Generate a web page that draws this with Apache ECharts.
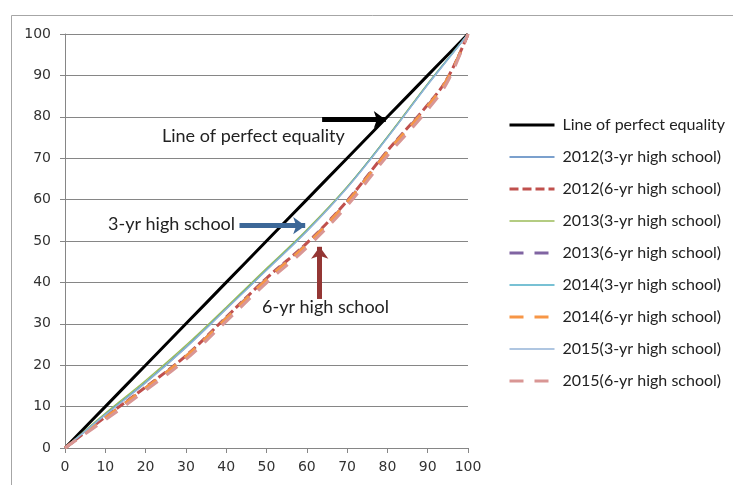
<!DOCTYPE html>
<html>
<head>
<meta charset="utf-8">
<script src="https://cdn.jsdelivr.net/npm/echarts@6/dist/echarts.min.js"></script>
<style>html,body{margin:0;padding:0;background:#fff}#c{width:733px;height:485px}</style>
</head>
<body>
<div id="c"></div>
<script>
// cumulative share of students (x) vs cumulative share (y)
var xs = [0, 10, 20, 30, 40, 50, 60, 70, 80, 90, 95, 100];
var equality = [0, 10, 20, 30, 40, 50, 60, 70, 80, 90, 95, 100];
var y2012_3 = [0, 8.1, 15.9, 24.4, 33.7, 43.1, 52.5, 63.0, 75.1, 87.9, 94.0, 100];
var y2012_6 = [0, 7.5, 14.7, 22.3, 31.6, 41.0, 49.5, 59.7, 71.8, 82.9, 89.5, 100];
var y2013_3 = [0, 8.4, 16.3, 24.8, 34.0, 43.4, 52.7, 63.1, 75.2, 88.0, 94.0, 100];
var y2013_6 = [0, 7.35, 14.5, 22.1, 31.4, 40.8, 49.3, 59.5, 71.6, 82.7, 89.3, 100];
var y2014_3 = [0, 8.1, 15.8, 24.3, 33.6, 43.0, 52.4, 62.9, 75.0, 87.8, 93.9, 100];
var y2014_6 = [0, 7.3, 14.5, 22.1, 31.3, 40.7, 49.2, 59.4, 71.5, 82.6, 89.3, 100];
var y2015_3 = [0, 8.0, 15.7, 24.2, 33.5, 42.9, 52.3, 62.8, 74.9, 87.7, 93.8, 100];
var y2015_6 = [0, 6.8, 13.9, 21.4, 30.6, 39.9, 48.4, 58.5, 70.6, 81.7, 88.6, 100];
var names = ['Line of perfect equality', '2012(3-yr high school)', '2012(6-yr high school)',
  '2013(3-yr high school)', '2013(6-yr high school)', '2014(3-yr high school)',
  '2014(6-yr high school)', '2015(3-yr high school)', '2015(6-yr high school)'];

function pairs(ys) { return xs.map(function (x, i) { return [x, ys[i]]; }); }

var chart = echarts.init(document.getElementById('c'));
var font = 'Lato';
var widths = [3, 1.3, 3, 1.3, 3, 1.3, 3, 1.3, 3];
function ser(name, ys, color, width, dash) {
  return {
    name: name, type: 'line', data: pairs(ys), smooth: 0.4, symbol: 'none',
    lineStyle: { color: color, width: width, type: dash || 'solid', cap: 'butt' },
    itemStyle: { color: color }, animation: false
  };
}
var series = [
  ser(names[0], equality, '#000000', widths[0]),
  ser(names[1], y2012_3, '#4F81BD', widths[1]),
  ser(names[2], y2012_6, '#C0504D', widths[2], [9, 4]),
  ser(names[3], y2013_3, '#9BBB59', widths[3]),
  ser(names[4], y2013_6, '#8064A2', widths[4], [14, 11]),
  ser(names[5], y2014_3, '#4BACC6', widths[5]),
  ser(names[6], y2014_6, '#F79646', widths[6], [14, 11]),
  ser(names[7], y2015_3, '#95B3D7', widths[7]),
  ser(names[8], y2015_6, '#D99694', widths[8], [14, 11])
];
series[0].markLine = {
  silent: true, animation: false, symbol: ['none', 'arrow'], symbolSize: [13, 12],
  label: { show: false },
  data: [
    [{ coord: [63.8, 79.3], lineStyle: { color: '#000000', width: 5, type: 'solid' } }, { coord: [79.6, 79.3] }],
    [{ coord: [43.3, 53.7], lineStyle: { color: '#3C6797', width: 5, type: 'solid' } }, { coord: [59.6, 53.7] }],
    [{ coord: [63.2, 36.0], lineStyle: { color: '#943634', width: 5, type: 'solid' } }, { coord: [63.2, 48.6] }]
  ]
};

chart.setOption({
  backgroundColor: '#ffffff',
  animation: false,
  grid: { left: 65, right: 265, top: 34, bottom: 37, containLabel: false },
  xAxis: {
    type: 'value', min: 0, max: 100, interval: 10,
    axisLine: { show: true, lineStyle: { color: '#868686', width: 1 } },
    axisTick: { show: true, length: 5, lineStyle: { color: '#868686' } },
    axisLabel: { color: '#333', fontFamily: 'DejaVu Sans', fontSize: 14, margin: 12 },
    splitLine: { show: false }
  },
  yAxis: {
    type: 'value', min: 0, max: 100, interval: 10,
    axisLine: { show: true, lineStyle: { color: '#868686', width: 1 } },
    axisTick: { show: true, length: 5, lineStyle: { color: '#868686' } },
    axisLabel: { color: '#333', fontFamily: 'DejaVu Sans', fontSize: 14, margin: 14 },
    splitLine: { show: true, lineStyle: { color: '#868686', width: 1 } }
  },
  legend: {
    orient: 'vertical', left: 508, top: 117, padding: 0, itemWidth: 45, itemHeight: 14, itemGap: 16,
    data: names.map(function (n, i) { return { name: n, lineStyle: { width: widths[i] } }; }),
    itemStyle: { opacity: 0 },
    textStyle: { color: '#222', fontFamily: font, fontSize: 16, padding: [0, 0, 0, 3] }
  },
  graphic: [
    { type: 'rect', silent: true, z: -1, shape: { x: 11.5, y: 15.5, width: 740, height: 480 },
      style: { fill: 'none', stroke: '#a6a6a6', lineWidth: 1 } },
    { type: 'text', left: 162, top: 127, style: { text: 'Line of perfect equality', font: '18px ' + font, fill: '#222' } },
    { type: 'text', left: 108, top: 215, style: { text: '3-yr high school', font: '18px ' + font, fill: '#222' } },
    { type: 'text', left: 262, top: 298, style: { text: '6-yr high school', font: '18px ' + font, fill: '#222' } }
  ],
  series: series
});
</script>
</body>
</html>
